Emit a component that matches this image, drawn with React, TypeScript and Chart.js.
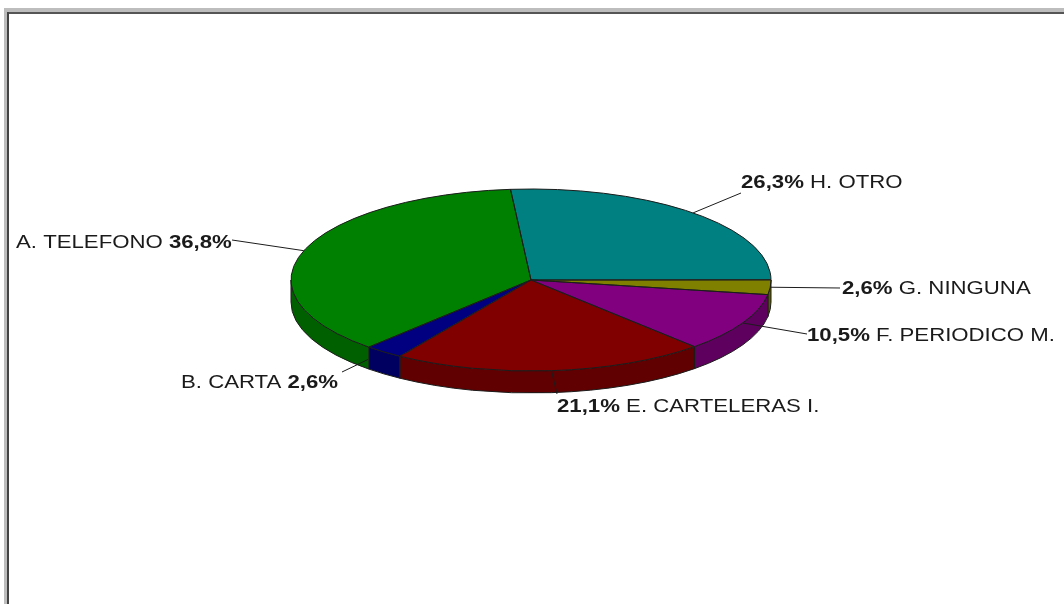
import React, { useEffect, useRef } from "react";
import { Chart, registerables } from "chart.js";

Chart.register(...registerables);

const categories = ["H. OTRO", "G. NINGUNA", "F. PERIODICO M.", "E. CARTELERAS I.", "B. CARTA", "A. TELEFONO"];
const values = [26.3, 2.6, 10.5, 21.1, 2.6, 36.8];
const topColors = ["#008080", "#808000", "#800080", "#800000", "#000080", "#008000"];
const wallColors = ["#006060", "#5c5c00", "#5e005e", "#600000", "#000060", "#006000"];
const percentFirst = [true, true, true, true, false, false];
const labelX = [741, 842, 807, 557, 181, 16];
const labelBaseline = [188, 294, 341, 412, 388, 248];
const leaderEndX = [741, 840, 807, 557, 342, 232];
const leaderEndY = [193, 288, 334, 394, 372, 240];
const leaderStartT = [0, 0, 0, 0, 0.38, 0];

const SQUASH = 91 / 240;
const DEPTH = 22;
const FONT_SIZE = 18;
const TEXT_STRETCH = 1.233;
const FONT_FAMILY = '"Liberation Sans", Arial, sans-serif';
const TEXT_COLOR = "#1a1a1a";
const LINE_COLOR = "#1c1c1c";

const pie3d = {
  id: "pie3d",
  beforeDatasetsDraw(chart: any) {
    const ctx = chart.ctx;
    const arcs = chart.getDatasetMeta(0).data;
    ctx.save();
    ctx.lineWidth = 1;
    ctx.strokeStyle = LINE_COLOR;
    arcs.forEach((a: any, i: number) => {
      for (const shift of [-2 * Math.PI, 0, 2 * Math.PI]) {
        const s = Math.max(a.startAngle + shift, 0);
        const e = Math.min(a.endAngle + shift, Math.PI);
        if (e <= s) continue;
        const ry = a.outerRadius * SQUASH;
        ctx.beginPath();
        ctx.ellipse(a.x, a.y, a.outerRadius, ry, 0, s, e);
        ctx.ellipse(a.x, a.y + DEPTH, a.outerRadius, ry, 0, e, s, true);
        ctx.closePath();
        ctx.fillStyle = wallColors[i];
        ctx.fill();
        ctx.stroke();
      }
    });
    ctx.restore();
    const first = arcs[0];
    ctx.save();
    ctx.translate(first.x, first.y);
    ctx.scale(1, SQUASH);
    ctx.translate(-first.x, -first.y);
  },
  afterDatasetsDraw(chart: any) {
    const ctx = chart.ctx;
    ctx.restore();
    const arcs = chart.getDatasetMeta(0).data;
    ctx.save();
    ctx.lineWidth = 1;
    ctx.strokeStyle = LINE_COLOR;
    arcs.forEach((a: any) => {
      ctx.beginPath();
      ctx.moveTo(a.x, a.y);
      ctx.ellipse(a.x, a.y, a.outerRadius, a.outerRadius * SQUASH, 0, a.startAngle, a.endAngle);
      ctx.closePath();
      ctx.stroke();
    });
    arcs.forEach((a: any, i: number) => {
      const mid = (a.startAngle + a.endAngle) / 2;
      const px = a.x + a.outerRadius * Math.cos(mid);
      const py = a.y + a.outerRadius * SQUASH * Math.sin(mid);
      const t = leaderStartT[i];
      ctx.beginPath();
      ctx.moveTo(px + (leaderEndX[i] - px) * t, py + (leaderEndY[i] - py) * t);
      ctx.lineTo(leaderEndX[i], leaderEndY[i]);
      ctx.stroke();

      const pct = values[i].toFixed(1).replace(".", ",") + "%";
      const parts = percentFirst[i]
        ? [{ t: pct, b: true }, { t: " " + categories[i], b: false }]
        : [{ t: categories[i] + " ", b: false }, { t: pct, b: true }];
      let x = 0;
      ctx.save();
      ctx.translate(labelX[i], labelBaseline[i]);
      ctx.scale(TEXT_STRETCH, 1);
      ctx.fillStyle = TEXT_COLOR;
      ctx.textBaseline = "alphabetic";
      ctx.textAlign = "left";
      for (const part of parts) {
        ctx.font = `${part.b ? "bold " : ""}${FONT_SIZE}px ${FONT_FAMILY}`;
        ctx.fillText(part.t, x, 0);
        x += ctx.measureText(part.t).width;
      }
      ctx.restore();
    });
    ctx.restore();
  },
};

const frameStyle = (s: React.CSSProperties): React.CSSProperties => ({ position: "absolute", ...s });

export default function App() {
  const ref = useRef<HTMLCanvasElement | null>(null);
  useEffect(() => {
    document.body.style.margin = "0";
    document.body.style.overflow = "hidden";
    const chart = new Chart(ref.current as HTMLCanvasElement, {
      type: "pie",
      data: {
        labels: categories,
        datasets: [{ data: values, backgroundColor: topColors, borderWidth: 0, hoverOffset: 0 }],
      },
      options: {
        animation: false,
        responsive: false,
        rotation: -4.9,
        layout: { padding: { left: 291, right: 293, top: 40, bottom: 84 } },
        plugins: { legend: { display: false }, tooltip: { enabled: false }, title: { display: false } },
      },
      plugins: [pie3d],
    } as any);
    return () => chart.destroy();
  }, []);
  return (
    <div style={{ position: "relative", width: 1064, height: 604, background: "#fff", overflow: "hidden" }}>
      <canvas ref={ref} width={1064} height={604} style={{ display: "block" }} />
      <div style={frameStyle({ left: 4, top: 8, width: 1060, height: 4, background: "#bdbdbd" })} />
      <div style={frameStyle({ left: 4, top: 8, width: 3, height: 596, background: "#bdbdbd" })} />
      <div style={frameStyle({ left: 7, top: 12, width: 1057, height: 2, background: "#555" })} />
      <div style={frameStyle({ left: 7, top: 12, width: 2, height: 592, background: "#444" })} />
    </div>
  );
}
